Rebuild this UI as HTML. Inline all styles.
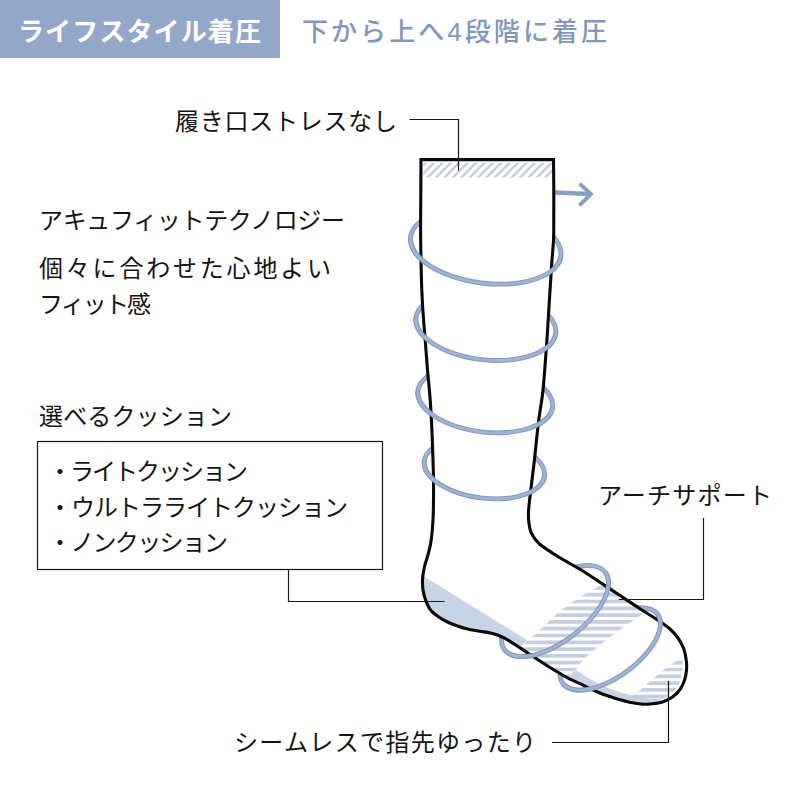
<!DOCTYPE html>
<html><head><meta charset="utf-8"><style>html,body{margin:0;padding:0;background:#fff;font-family:"Liberation Sans",sans-serif}svg{display:block}</style></head>
<body><svg width="800" height="800" viewBox="0 0 800 800">
<defs><clipPath id="sock"><path d="M553.5 159.6C553.5 164.7 553.8 181.6 553.8 190.0C553.8 198.4 553.8 202.0 553.8 210.0C553.7 218.0 553.9 229.7 553.6 238.0C553.3 246.3 552.4 254.3 552.0 260.0C551.6 265.7 551.7 263.7 551.2 272.0C550.7 280.3 549.5 297.7 548.8 310.0C548.0 322.3 547.5 332.7 546.5 346.0C545.5 359.3 544.3 377.3 543.0 390.0C541.7 402.7 539.9 410.3 538.5 422.0C537.1 433.7 535.5 450.3 534.4 460.0C533.3 469.7 532.8 473.3 532.0 480.0C531.2 486.7 530.2 494.7 529.6 500.0C529.0 505.3 528.6 508.3 528.5 512.0C528.4 515.7 528.3 518.5 528.8 522.0C529.3 525.5 529.5 529.3 531.3 533.0C533.1 536.7 534.7 539.9 539.5 544.0C544.3 548.1 553.2 553.6 560.0 557.8C566.8 562.0 573.3 565.2 580.0 569.3C586.7 573.4 593.3 577.9 600.0 582.3C606.7 586.7 613.3 591.1 620.0 595.5C626.7 599.9 633.3 604.4 640.0 608.7C646.7 613.0 655.0 618.1 660.0 621.5C665.0 624.9 667.0 626.2 670.0 629.0C673.0 631.8 675.8 634.8 678.0 638.0C680.2 641.2 682.1 644.3 683.5 648.0C684.9 651.7 685.8 656.3 686.2 660.0C686.8 663.7 686.8 666.7 686.5 670.0C686.2 673.3 685.7 676.8 684.6 680.0C683.5 683.2 682.0 686.7 680.0 689.5C678.0 692.3 675.4 694.9 672.5 697.0C669.6 699.1 666.2 700.8 662.5 702.0C658.8 703.2 653.3 703.6 650.0 704.0C646.7 704.4 645.7 704.4 642.5 704.2C639.3 704.0 634.9 703.4 631.0 702.6C627.1 701.8 623.2 700.6 619.0 699.4C614.8 698.2 609.2 696.3 606.0 695.2C602.8 694.1 602.7 694.1 600.0 693.0C597.3 691.9 593.3 690.2 590.0 688.6C586.7 687.0 583.3 685.2 580.0 683.6C576.7 682.0 573.3 680.9 570.0 679.2C566.7 677.5 563.3 675.5 560.0 673.5C556.7 671.5 553.3 669.6 550.0 667.5C546.7 665.4 543.3 663.2 540.0 661.0C536.7 658.8 533.3 656.7 530.0 654.5C526.7 652.3 523.3 650.0 520.0 647.8C516.7 645.6 513.3 643.3 510.0 641.3C506.7 639.3 503.3 637.4 500.0 636.0C496.7 634.6 493.3 633.8 490.0 633.0C486.7 632.2 483.8 631.9 480.0 631.2C476.2 630.5 471.2 629.9 467.5 629.0C463.8 628.1 460.8 627.2 457.5 626.0C454.2 624.8 450.6 623.5 447.5 622.0C444.4 620.5 441.6 619.0 438.8 617.0C435.9 615.0 432.8 612.8 430.6 610.0C428.4 607.2 426.9 603.3 425.6 600.0C424.3 596.7 423.5 593.3 423.0 590.0C422.5 586.7 422.4 583.3 422.5 580.0C422.6 576.7 423.2 572.8 423.8 570.0C424.2 567.2 424.7 565.8 425.5 563.0C426.3 560.2 427.5 556.8 428.5 553.0C429.5 549.2 430.5 545.5 431.2 540.0C432.0 534.5 432.6 526.7 433.0 520.0C433.4 513.3 433.4 507.0 433.5 500.0C433.6 493.0 433.6 484.7 433.5 478.0C433.4 471.3 433.2 466.3 433.0 460.0C432.8 453.7 432.6 448.0 432.3 440.0C432.0 432.0 431.5 420.3 431.0 412.0C430.5 403.7 430.0 397.0 429.4 390.0C428.8 383.0 428.2 378.3 427.5 370.0C426.8 361.7 425.9 349.2 425.2 340.0C424.5 330.8 423.8 323.3 423.2 315.0C422.6 306.7 422.2 299.2 421.8 290.0C421.4 280.8 421.2 270.0 421.0 260.0C420.8 250.0 420.6 241.7 420.6 230.0C420.6 218.3 420.7 201.7 420.8 190.0C420.9 178.3 421.0 164.7 421.0 159.6Z"/></clipPath>
<clipPath id="band"><rect x="423.5" y="162.8" width="128.5" height="14.8"/></clipPath>
<clipPath id="arch"><path d="M601.2 584.0L596.2 588.0L584.2 594.5L574.2 601.0L564.2 608.0L555.6 615.0L548.2 622.0L541.2 628.8L534.2 635.6L528.0 640.0L515.0 652.0L530.0 670.0L560.0 690.0L568.0 677.0L576.0 669.4L581.0 662.5L588.0 655.6L595.0 649.0L604.0 642.0L612.0 635.6L621.0 628.8L631.0 622.0L641.0 615.0L650.0 608.0L640.0 590.0Z"/></clipPath>
<clipPath id="toe"><path d="M678.5 659.3L674.0 662.5L664.0 669.4L656.0 676.0L648.0 683.0L640.6 690.0L631.0 696.5L622.0 703.0L640.0 715.0L655.0 700.5L665.0 698.3L674.0 691.5L679.0 684.0L681.3 676.0L682.8 669.0L682.8 659.3Z"/></clipPath></defs>
<rect width="800" height="800" fill="#fff"/>
<rect x="0" y="0" width="280" height="58" fill="#93a8c8"/>
<path d="M432.7 215.1C423.4 218.8 416.7 223.8 413.2 229.6C409.7 235.5 409.6 242.1 412.8 248.6C416.0 255.2 422.6 261.5 431.7 267.0C440.8 272.5 452.3 277.0 464.9 280.0C477.5 283.0 490.8 284.4 503.6 284.1C516.3 283.8 528.1 281.8 537.6 278.3C547.1 274.8 554.1 269.9 557.9 264.1C561.6 258.3 562.1 251.8 559.1 245.2C556.1 238.6 549.9 232.2 540.9 226.6" fill="none" stroke="#8299bf" stroke-width="4.8"/><path d="M432.7 215.1C423.4 218.8 416.7 223.8 413.2 229.6C409.7 235.5 409.6 242.1 412.8 248.6C416.0 255.2 422.6 261.5 431.7 267.0C440.8 272.5 452.3 277.0 464.9 280.0C477.5 283.0 490.8 284.4 503.6 284.1C516.3 283.8 528.1 281.8 537.6 278.3C547.1 274.8 554.1 269.9 557.9 264.1C561.6 258.3 562.1 251.8 559.1 245.2C556.1 238.6 549.9 232.2 540.9 226.6" fill="none" stroke="#9fb3d3" stroke-width="2.8"/>
<path d="M432.5 298.8C424.8 302.6 419.5 307.5 417.2 313.0C414.8 318.6 415.5 324.6 419.1 330.5C422.8 336.3 429.3 341.9 438.0 346.7C446.7 351.4 457.3 355.1 468.9 357.5C480.4 359.9 492.6 360.9 504.1 360.3C515.6 359.8 526.1 357.7 534.7 354.4C543.2 351.0 549.5 346.5 552.9 341.1C556.4 335.8 556.8 329.9 554.3 324.0C551.7 318.0 546.2 312.3 538.3 307.2" fill="none" stroke="#8299bf" stroke-width="4.8"/><path d="M432.5 298.8C424.8 302.6 419.5 307.5 417.2 313.0C414.8 318.6 415.5 324.6 419.1 330.5C422.8 336.3 429.3 341.9 438.0 346.7C446.7 351.4 457.3 355.1 468.9 357.5C480.4 359.9 492.6 360.9 504.1 360.3C515.6 359.8 526.1 357.7 534.7 354.4C543.2 351.0 549.5 346.5 552.9 341.1C556.4 335.8 556.8 329.9 554.3 324.0C551.7 318.0 546.2 312.3 538.3 307.2" fill="none" stroke="#9fb3d3" stroke-width="2.8"/>
<path d="M438.7 370.8C430.1 374.1 423.8 378.6 420.4 383.9C417.1 389.2 416.9 395.2 419.8 401.1C422.7 407.1 428.6 412.9 437.0 417.8C445.3 422.8 455.8 426.8 467.3 429.4C478.8 432.0 491.0 433.2 502.5 432.7C514.0 432.3 524.6 430.3 533.0 426.9C541.4 423.5 547.5 418.9 550.5 413.5C553.5 408.1 553.4 402.1 550.2 396.2C546.9 390.2 540.7 384.5 532.2 379.6" fill="none" stroke="#8299bf" stroke-width="4.8"/><path d="M438.7 370.8C430.1 374.1 423.8 378.6 420.4 383.9C417.1 389.2 416.9 395.2 419.8 401.1C422.7 407.1 428.6 412.9 437.0 417.8C445.3 422.8 455.8 426.8 467.3 429.4C478.8 432.0 491.0 433.2 502.5 432.7C514.0 432.3 524.6 430.3 533.0 426.9C541.4 423.5 547.5 418.9 550.5 413.5C553.5 408.1 553.4 402.1 550.2 396.2C546.9 390.2 540.7 384.5 532.2 379.6" fill="none" stroke="#9fb3d3" stroke-width="2.8"/>
<path d="M442.2 443.2C434.5 446.2 429.0 450.3 426.2 455.1C423.4 460.0 423.4 465.4 426.2 470.7C429.0 476.1 434.5 481.3 442.1 485.7C449.7 490.2 459.2 493.7 469.6 496.0C480.0 498.3 490.9 499.3 501.1 498.8C511.4 498.3 520.7 496.4 528.1 493.3C535.5 490.1 540.6 485.9 543.1 481.0C545.5 476.0 545.1 470.6 541.9 465.3C538.8 459.9 532.9 454.8 525.0 450.5" fill="none" stroke="#8299bf" stroke-width="4.8"/><path d="M442.2 443.2C434.5 446.2 429.0 450.3 426.2 455.1C423.4 460.0 423.4 465.4 426.2 470.7C429.0 476.1 434.5 481.3 442.1 485.7C449.7 490.2 459.2 493.7 469.6 496.0C480.0 498.3 490.9 499.3 501.1 498.8C511.4 498.3 520.7 496.4 528.1 493.3C535.5 490.1 540.6 485.9 543.1 481.0C545.5 476.0 545.1 470.6 541.9 465.3C538.8 459.9 532.9 454.8 525.0 450.5" fill="none" stroke="#9fb3d3" stroke-width="2.8"/>
<path d="M570.5 568.7C579.3 565.8 587.4 564.9 593.7 566.0C600.1 567.1 604.7 570.2 606.9 575.0C609.2 579.9 609.1 586.2 606.6 593.5C604.1 600.7 599.4 608.6 592.9 616.4C586.3 624.3 578.2 631.7 569.3 638.0C560.4 644.4 551.0 649.4 542.0 652.6C533.0 655.9 524.8 657.2 518.0 656.4C511.3 655.7 506.4 653.0 503.7 648.5C501.0 644.0 500.7 637.9 502.7 630.8" fill="none" stroke="#8299bf" stroke-width="4.8"/><path d="M570.5 568.7C579.3 565.8 587.4 564.9 593.7 566.0C600.1 567.1 604.7 570.2 606.9 575.0C609.2 579.9 609.1 586.2 606.6 593.5C604.1 600.7 599.4 608.6 592.9 616.4C586.3 624.3 578.2 631.7 569.3 638.0C560.4 644.4 551.0 649.4 542.0 652.6C533.0 655.9 524.8 657.2 518.0 656.4C511.3 655.7 506.4 653.0 503.7 648.5C501.0 644.0 500.7 637.9 502.7 630.8" fill="none" stroke="#9fb3d3" stroke-width="2.8"/>
<path d="M632.3 608.5C639.6 607.1 646.0 607.4 650.8 609.3C655.7 611.2 658.8 614.7 659.9 619.4C661.1 624.2 660.2 630.0 657.4 636.4C654.6 642.8 650.0 649.7 643.9 656.3C637.8 662.9 630.5 669.2 622.5 674.5C614.6 679.8 606.2 683.9 598.3 686.6C590.3 689.4 582.9 690.5 576.8 690.0C570.7 689.5 566.0 687.4 563.2 683.8C560.3 680.2 559.4 675.3 560.5 669.4" fill="none" stroke="#8299bf" stroke-width="4.8"/><path d="M632.3 608.5C639.6 607.1 646.0 607.4 650.8 609.3C655.7 611.2 658.8 614.7 659.9 619.4C661.1 624.2 660.2 630.0 657.4 636.4C654.6 642.8 650.0 649.7 643.9 656.3C637.8 662.9 630.5 669.2 622.5 674.5C614.6 679.8 606.2 683.9 598.3 686.6C590.3 689.4 582.9 690.5 576.8 690.0C570.7 689.5 566.0 687.4 563.2 683.8C560.3 680.2 559.4 675.3 560.5 669.4" fill="none" stroke="#9fb3d3" stroke-width="2.8"/>

<path d="M553 192.3L590 194" fill="none" stroke="#889ec3" stroke-width="4.3"/><path d="M579.5 183.6L591 194L579.5 205.3" fill="none" stroke="#889ec3" stroke-width="3.9" stroke-linejoin="miter"/>
<path d="M553.5 159.6C553.5 164.7 553.8 181.6 553.8 190.0C553.8 198.4 553.8 202.0 553.8 210.0C553.7 218.0 553.9 229.7 553.6 238.0C553.3 246.3 552.4 254.3 552.0 260.0C551.6 265.7 551.7 263.7 551.2 272.0C550.7 280.3 549.5 297.7 548.8 310.0C548.0 322.3 547.5 332.7 546.5 346.0C545.5 359.3 544.3 377.3 543.0 390.0C541.7 402.7 539.9 410.3 538.5 422.0C537.1 433.7 535.5 450.3 534.4 460.0C533.3 469.7 532.8 473.3 532.0 480.0C531.2 486.7 530.2 494.7 529.6 500.0C529.0 505.3 528.6 508.3 528.5 512.0C528.4 515.7 528.3 518.5 528.8 522.0C529.3 525.5 529.5 529.3 531.3 533.0C533.1 536.7 534.7 539.9 539.5 544.0C544.3 548.1 553.2 553.6 560.0 557.8C566.8 562.0 573.3 565.2 580.0 569.3C586.7 573.4 593.3 577.9 600.0 582.3C606.7 586.7 613.3 591.1 620.0 595.5C626.7 599.9 633.3 604.4 640.0 608.7C646.7 613.0 655.0 618.1 660.0 621.5C665.0 624.9 667.0 626.2 670.0 629.0C673.0 631.8 675.8 634.8 678.0 638.0C680.2 641.2 682.1 644.3 683.5 648.0C684.9 651.7 685.8 656.3 686.2 660.0C686.8 663.7 686.8 666.7 686.5 670.0C686.2 673.3 685.7 676.8 684.6 680.0C683.5 683.2 682.0 686.7 680.0 689.5C678.0 692.3 675.4 694.9 672.5 697.0C669.6 699.1 666.2 700.8 662.5 702.0C658.8 703.2 653.3 703.6 650.0 704.0C646.7 704.4 645.7 704.4 642.5 704.2C639.3 704.0 634.9 703.4 631.0 702.6C627.1 701.8 623.2 700.6 619.0 699.4C614.8 698.2 609.2 696.3 606.0 695.2C602.8 694.1 602.7 694.1 600.0 693.0C597.3 691.9 593.3 690.2 590.0 688.6C586.7 687.0 583.3 685.2 580.0 683.6C576.7 682.0 573.3 680.9 570.0 679.2C566.7 677.5 563.3 675.5 560.0 673.5C556.7 671.5 553.3 669.6 550.0 667.5C546.7 665.4 543.3 663.2 540.0 661.0C536.7 658.8 533.3 656.7 530.0 654.5C526.7 652.3 523.3 650.0 520.0 647.8C516.7 645.6 513.3 643.3 510.0 641.3C506.7 639.3 503.3 637.4 500.0 636.0C496.7 634.6 493.3 633.8 490.0 633.0C486.7 632.2 483.8 631.9 480.0 631.2C476.2 630.5 471.2 629.9 467.5 629.0C463.8 628.1 460.8 627.2 457.5 626.0C454.2 624.8 450.6 623.5 447.5 622.0C444.4 620.5 441.6 619.0 438.8 617.0C435.9 615.0 432.8 612.8 430.6 610.0C428.4 607.2 426.9 603.3 425.6 600.0C424.3 596.7 423.5 593.3 423.0 590.0C422.5 586.7 422.4 583.3 422.5 580.0C422.6 576.7 423.2 572.8 423.8 570.0C424.2 567.2 424.7 565.8 425.5 563.0C426.3 560.2 427.5 556.8 428.5 553.0C429.5 549.2 430.5 545.5 431.2 540.0C432.0 534.5 432.6 526.7 433.0 520.0C433.4 513.3 433.4 507.0 433.5 500.0C433.6 493.0 433.6 484.7 433.5 478.0C433.4 471.3 433.2 466.3 433.0 460.0C432.8 453.7 432.6 448.0 432.3 440.0C432.0 432.0 431.5 420.3 431.0 412.0C430.5 403.7 430.0 397.0 429.4 390.0C428.8 383.0 428.2 378.3 427.5 370.0C426.8 361.7 425.9 349.2 425.2 340.0C424.5 330.8 423.8 323.3 423.2 315.0C422.6 306.7 422.2 299.2 421.8 290.0C421.4 280.8 421.2 270.0 421.0 260.0C420.8 250.0 420.6 241.7 420.6 230.0C420.6 218.3 420.7 201.7 420.8 190.0C420.9 178.3 421.0 164.7 421.0 159.6Z" fill="#fff"/>
<g clip-path="url(#sock)">
<g clip-path="url(#band)"><path d="M400.0 180L422.0 158M408.4 180L430.4 158M416.8 180L438.8 158M425.2 180L447.2 158M433.6 180L455.6 158M442.0 180L464.0 158M450.4 180L472.4 158M458.8 180L480.8 158M467.2 180L489.2 158M475.6 180L497.6 158M484.0 180L506.0 158M492.4 180L514.4 158M500.8 180L522.8 158M509.2 180L531.2 158M517.6 180L539.6 158M526.0 180L548.0 158M534.4 180L556.4 158M542.8 180L564.8 158M551.2 180L573.2 158M559.6 180L581.6 158M568.0 180L590.0 158" stroke="#c7cddd" stroke-width="2.5" fill="none"/></g>
<path d="M415.0 571.0L424.0 576.5L527.0 640.0L515.0 652.0L500.0 660.0L440.0 640.0L410.0 610.0Z" fill="#c9d3e6"/>
<path d="M576.0 670.0L585.0 676.0L597.5 683.0L610.0 688.8L622.5 693.0L635.0 696.3L648.0 698.6L662.0 699.5L665.0 712.0L600.0 712.0L560.0 680.0L568.0 677.0Z" fill="#c9d3e6"/>
<g clip-path="url(#arch)"><path d="M480 587.9H700M480 594.7H700M480 601.5H700M480 608.3H700M480 615.1H700M480 621.9H700M480 628.7H700M480 635.5H700M480 642.3H700M480 649.1H700M480 655.9H700M480 662.7H700M480 669.5H700M480 676.3H700M480 683.1H700M480 689.9H700M480 696.7H700M480 703.5H700M480 710.3H700" stroke="#c6cfe0" stroke-width="3.7" fill="none"/></g>
<g clip-path="url(#toe)"><path d="M480 587.9H700M480 594.7H700M480 601.5H700M480 608.3H700M480 615.1H700M480 621.9H700M480 628.7H700M480 635.5H700M480 642.3H700M480 649.1H700M480 655.9H700M480 662.7H700M480 669.5H700M480 676.3H700M480 683.1H700M480 689.9H700M480 696.7H700M480 703.5H700M480 710.3H700" stroke="#c6cfe0" stroke-width="3.7" fill="none"/></g>
</g>
<path d="M553.5 159.6C553.5 164.7 553.8 181.6 553.8 190.0C553.8 198.4 553.8 202.0 553.8 210.0C553.7 218.0 553.9 229.7 553.6 238.0C553.3 246.3 552.4 254.3 552.0 260.0C551.6 265.7 551.7 263.7 551.2 272.0C550.7 280.3 549.5 297.7 548.8 310.0C548.0 322.3 547.5 332.7 546.5 346.0C545.5 359.3 544.3 377.3 543.0 390.0C541.7 402.7 539.9 410.3 538.5 422.0C537.1 433.7 535.5 450.3 534.4 460.0C533.3 469.7 532.8 473.3 532.0 480.0C531.2 486.7 530.2 494.7 529.6 500.0C529.0 505.3 528.6 508.3 528.5 512.0C528.4 515.7 528.3 518.5 528.8 522.0C529.3 525.5 529.5 529.3 531.3 533.0C533.1 536.7 534.7 539.9 539.5 544.0C544.3 548.1 553.2 553.6 560.0 557.8C566.8 562.0 573.3 565.2 580.0 569.3C586.7 573.4 593.3 577.9 600.0 582.3C606.7 586.7 613.3 591.1 620.0 595.5C626.7 599.9 633.3 604.4 640.0 608.7C646.7 613.0 655.0 618.1 660.0 621.5C665.0 624.9 667.0 626.2 670.0 629.0C673.0 631.8 675.8 634.8 678.0 638.0C680.2 641.2 682.1 644.3 683.5 648.0C684.9 651.7 685.8 656.3 686.2 660.0C686.8 663.7 686.8 666.7 686.5 670.0C686.2 673.3 685.7 676.8 684.6 680.0C683.5 683.2 682.0 686.7 680.0 689.5C678.0 692.3 675.4 694.9 672.5 697.0C669.6 699.1 666.2 700.8 662.5 702.0C658.8 703.2 653.3 703.6 650.0 704.0C646.7 704.4 645.7 704.4 642.5 704.2C639.3 704.0 634.9 703.4 631.0 702.6C627.1 701.8 623.2 700.6 619.0 699.4C614.8 698.2 609.2 696.3 606.0 695.2C602.8 694.1 602.7 694.1 600.0 693.0C597.3 691.9 593.3 690.2 590.0 688.6C586.7 687.0 583.3 685.2 580.0 683.6C576.7 682.0 573.3 680.9 570.0 679.2C566.7 677.5 563.3 675.5 560.0 673.5C556.7 671.5 553.3 669.6 550.0 667.5C546.7 665.4 543.3 663.2 540.0 661.0C536.7 658.8 533.3 656.7 530.0 654.5C526.7 652.3 523.3 650.0 520.0 647.8C516.7 645.6 513.3 643.3 510.0 641.3C506.7 639.3 503.3 637.4 500.0 636.0C496.7 634.6 493.3 633.8 490.0 633.0C486.7 632.2 483.8 631.9 480.0 631.2C476.2 630.5 471.2 629.9 467.5 629.0C463.8 628.1 460.8 627.2 457.5 626.0C454.2 624.8 450.6 623.5 447.5 622.0C444.4 620.5 441.6 619.0 438.8 617.0C435.9 615.0 432.8 612.8 430.6 610.0C428.4 607.2 426.9 603.3 425.6 600.0C424.3 596.7 423.5 593.3 423.0 590.0C422.5 586.7 422.4 583.3 422.5 580.0C422.6 576.7 423.2 572.8 423.8 570.0C424.2 567.2 424.7 565.8 425.5 563.0C426.3 560.2 427.5 556.8 428.5 553.0C429.5 549.2 430.5 545.5 431.2 540.0C432.0 534.5 432.6 526.7 433.0 520.0C433.4 513.3 433.4 507.0 433.5 500.0C433.6 493.0 433.6 484.7 433.5 478.0C433.4 471.3 433.2 466.3 433.0 460.0C432.8 453.7 432.6 448.0 432.3 440.0C432.0 432.0 431.5 420.3 431.0 412.0C430.5 403.7 430.0 397.0 429.4 390.0C428.8 383.0 428.2 378.3 427.5 370.0C426.8 361.7 425.9 349.2 425.2 340.0C424.5 330.8 423.8 323.3 423.2 315.0C422.6 306.7 422.2 299.2 421.8 290.0C421.4 280.8 421.2 270.0 421.0 260.0C420.8 250.0 420.6 241.7 420.6 230.0C420.6 218.3 420.7 201.7 420.8 190.0C420.9 178.3 421.0 164.7 421.0 159.6Z" fill="none" stroke="#0a0a0a" stroke-width="3.1" stroke-linejoin="miter"/>
<path d="M409.5 119.5H458.5V170.5" fill="none" stroke="#161616" stroke-width="1.2"/>
<path d="M288.5 569.5V601.5H444.5" fill="none" stroke="#161616" stroke-width="1.2"/>
<path d="M703.5 518V599.5H618.7" fill="none" stroke="#161616" stroke-width="1.2"/>
<path d="M552 742.5H668.5V681" fill="none" stroke="#161616" stroke-width="1.2"/>
<rect x="37.5" y="441.5" width="345" height="128" fill="none" stroke="#161616" stroke-width="1.2"/>
<path d="M410.6 237.0C409.8 243.4 412.5 250.1 418.4 256.5C424.3 262.9 433.2 268.7 444.2 273.3C455.2 278.0 467.9 281.3 481.1 283.0C494.3 284.6 507.5 284.6 519.3 282.8C531.2 281.1 541.2 277.7 548.5 273.0C555.8 268.3 560.1 262.4 560.9 256.0" fill="none" stroke="#8299bf" stroke-width="4.8"/><path d="M410.6 237.0C409.8 243.4 412.5 250.1 418.4 256.5C424.3 262.9 433.2 268.7 444.2 273.3C455.2 278.0 467.9 281.3 481.1 283.0C494.3 284.6 507.5 284.6 519.3 282.8C531.2 281.1 541.2 277.7 548.5 273.0C555.8 268.3 560.1 262.4 560.9 256.0" fill="none" stroke="#9fb3d3" stroke-width="2.8"/>
<path d="M415.9 317.8C415.2 323.8 417.8 330.0 423.4 335.9C429.0 341.7 437.3 347.0 447.6 351.2C457.9 355.4 469.8 358.3 482.1 359.6C494.4 361.0 506.6 360.7 517.6 358.9C528.5 357.1 537.8 353.8 544.5 349.3C551.3 344.8 555.1 339.3 555.8 333.3" fill="none" stroke="#8299bf" stroke-width="4.8"/><path d="M415.9 317.8C415.2 323.8 417.8 330.0 423.4 335.9C429.0 341.7 437.3 347.0 447.6 351.2C457.9 355.4 469.8 358.3 482.1 359.6C494.4 361.0 506.6 360.7 517.6 358.9C528.5 357.1 537.8 353.8 544.5 349.3C551.3 344.8 555.1 339.3 555.8 333.3" fill="none" stroke="#9fb3d3" stroke-width="2.8"/>
<path d="M417.9 391.0C417.2 396.7 419.6 402.7 424.9 408.4C430.2 414.1 438.2 419.3 448.1 423.4C458.0 427.5 469.4 430.4 481.2 431.8C493.1 433.3 504.9 433.2 515.4 431.5C526.0 429.9 535.0 426.8 541.5 422.5C548.0 418.3 551.8 413.0 552.5 407.3" fill="none" stroke="#8299bf" stroke-width="4.8"/><path d="M417.9 391.0C417.2 396.7 419.6 402.7 424.9 408.4C430.2 414.1 438.2 419.3 448.1 423.4C458.0 427.5 469.4 430.4 481.2 431.8C493.1 433.3 504.9 433.2 515.4 431.5C526.0 429.9 535.0 426.8 541.5 422.5C548.0 418.3 551.8 413.0 552.5 407.3" fill="none" stroke="#9fb3d3" stroke-width="2.8"/>
<path d="M424.2 460.9C423.6 466.1 425.7 471.5 430.4 476.7C435.1 481.8 442.2 486.5 451.1 490.2C459.9 493.9 470.1 496.6 480.7 497.9C491.2 499.3 501.8 499.2 511.2 497.8C520.7 496.4 528.8 493.6 534.6 489.8C540.5 486.0 543.9 481.3 544.5 476.2" fill="none" stroke="#8299bf" stroke-width="4.8"/><path d="M424.2 460.9C423.6 466.1 425.7 471.5 430.4 476.7C435.1 481.8 442.2 486.5 451.1 490.2C459.9 493.9 470.1 496.6 480.7 497.9C491.2 499.3 501.8 499.2 511.2 497.8C520.7 496.4 528.8 493.6 534.6 489.8C540.5 486.0 543.9 481.3 544.5 476.2" fill="none" stroke="#9fb3d3" stroke-width="2.8"/>
<path d="M605.3 572.3C608.5 576.5 609.3 582.4 607.7 589.5C606.1 596.5 602.1 604.4 596.1 612.4C590.0 620.4 582.2 628.2 573.4 635.0C564.6 641.8 555.0 647.4 545.8 651.2C536.5 655.0 527.8 656.8 520.6 656.6C513.4 656.4 507.9 654.1 504.7 649.9" fill="none" stroke="#8299bf" stroke-width="4.8"/><path d="M605.3 572.3C608.5 576.5 609.3 582.4 607.7 589.5C606.1 596.5 602.1 604.4 596.1 612.4C590.0 620.4 582.2 628.2 573.4 635.0C564.6 641.8 555.0 647.4 545.8 651.2C536.5 655.0 527.8 656.8 520.6 656.6C513.4 656.4 507.9 654.1 504.7 649.9" fill="none" stroke="#9fb3d3" stroke-width="2.8"/>
<path d="M657.6 614.4C660.5 618.4 661.2 623.9 659.5 630.4C657.9 636.8 654.0 644.0 648.2 651.3C642.5 658.5 635.0 665.5 626.7 671.5C618.4 677.6 609.5 682.5 600.8 685.7C592.2 689.0 584.1 690.5 577.4 690.1C570.8 689.6 565.7 687.3 562.8 683.3" fill="none" stroke="#8299bf" stroke-width="4.8"/><path d="M657.6 614.4C660.5 618.4 661.2 623.9 659.5 630.4C657.9 636.8 654.0 644.0 648.2 651.3C642.5 658.5 635.0 665.5 626.7 671.5C618.4 677.6 609.5 682.5 600.8 685.7C592.2 689.0 584.1 690.5 577.4 690.1C570.8 689.6 565.7 687.3 562.8 683.3" fill="none" stroke="#9fb3d3" stroke-width="2.8"/>

<g font-family="&quot;Liberation Sans&quot;, &quot;Noto Sans CJK JP&quot;, sans-serif">
<text x="18" y="41" font-size="26" font-weight="bold" fill="#fff" textLength="243" lengthAdjust="spacing">ライフスタイル着圧</text>
<text x="302" y="41" font-size="26" font-weight="500" fill="#8197bc" textLength="305" lengthAdjust="spacing">下から上へ4段階に着圧</text>
<text x="175" y="130" font-size="24" fill="#141414" textLength="222" lengthAdjust="spacing">履き口ストレスなし</text>
<text x="39" y="229" font-size="24" fill="#141414" textLength="306" lengthAdjust="spacing">アキュフィットテクノロジー</text>
<text x="39" y="277" font-size="24" fill="#141414" textLength="292" lengthAdjust="spacing">個々に合わせた心地よい</text>
<text x="39" y="313" font-size="24" fill="#141414" textLength="112" lengthAdjust="spacing">フィット感</text>
<text x="39" y="425" font-size="24" fill="#141414" textLength="193" lengthAdjust="spacing">選べるクッション</text>
<text x="48" y="480" font-size="24" fill="#141414" textLength="200" lengthAdjust="spacing">・ライトクッション</text>
<text x="48" y="516" font-size="24" fill="#141414" textLength="300" lengthAdjust="spacing">・ウルトラライトクッション</text>
<text x="48" y="551" font-size="24" fill="#141414" textLength="180" lengthAdjust="spacing">・ノンクッション</text>
<text x="598" y="504" font-size="24" fill="#141414" textLength="174" lengthAdjust="spacing">アーチサポート</text>
<text x="234" y="751" font-size="24" fill="#141414" textLength="302" lengthAdjust="spacing">シームレスで指先ゆったり</text>
</g>
</svg></body></html>
